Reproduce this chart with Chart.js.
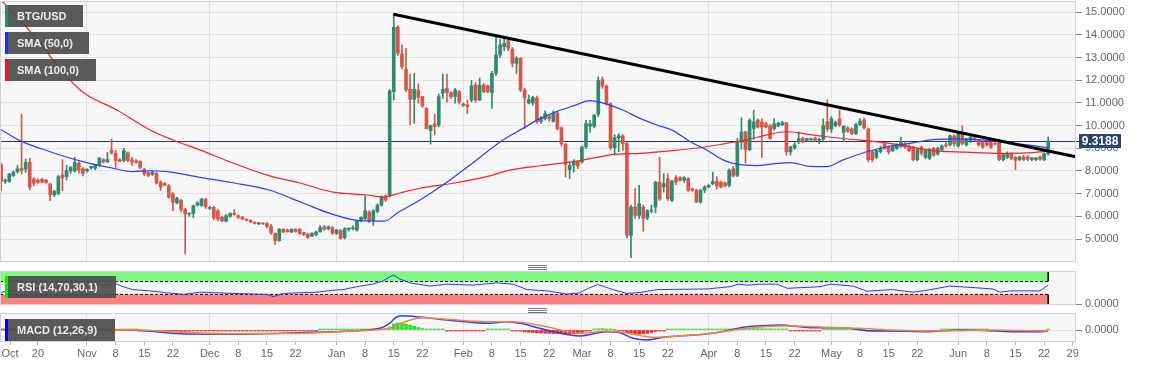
<!DOCTYPE html>
<html lang="en">
<head>
<meta charset="UTF-8" />
<title>BTG/USD</title>
<script src="https://cdn.jsdelivr.net/npm/chart.js"></script>
<style>
  html, body { margin: 0; padding: 0; background: #fff; }
  body { position: relative; width: 1153px; height: 367px; overflow: hidden; font-family: Arial, "Liberation Sans", sans-serif; }
  canvas { position: absolute; left: 0; top: 0; }
  .tag { position: absolute; left: 5px; height: 22px; line-height: 22px; padding-left: 12px; box-sizing: border-box;
         background: rgba(76,76,76,0.92); color: #ececec; font-size: 11px; font-weight: bold; white-space: nowrap; z-index: 5; }
  .tag i { position: absolute; left: 0; top: 0; width: 3px; height: 100%; }
  .grip { position: absolute; left: 528px; width: 19px; height: 5px; z-index: 5;
          background: linear-gradient(#777 0 1px, transparent 1px 2px, #777 2px 3px, transparent 3px 4px, #777 4px 5px); }
</style>
</head>
<body>
  <canvas id="price" width="1153" height="367"></canvas>
  <canvas id="rsi" width="1153" height="367"></canvas>
  <canvas id="macd" width="1153" height="367"></canvas>

  <div class="tag" style="top:5px;width:78px"><i style="background:#2e8a6e"></i>BTG/USD</div>
  <div class="tag" style="top:32px;width:84px"><i style="background:#1a2cff"></i>SMA (50,0)</div>
  <div class="tag" style="top:59px;width:91px"><i style="background:#ff1010"></i>SMA (100,0)</div>
  <div class="tag" style="top:276px;width:111px"><i style="background:#00f000"></i>RSI (14,70,30,1)</div>
  <div class="tag" style="top:319px;width:110px"><i style="background:#0000ff"></i>MACD (12,26,9)</div>
  <div class="grip" style="top:265px"></div>
  <div class="grip" style="top:308px"></div>

<script>
// days are counted from 1 Oct 2019 (day 0); first candle is day 10
const firstDay = 10;

const opens = [
  8.28,7.55,7.54,7.80,7.97,8.12,8.09,8.38,7.65,7.60,
  7.63,7.60,7.43,6.95,7.00,7.82,7.75,8.00,8.00,8.34,
  8.10,8.00,8.15,8.12,8.28,8.50,8.40,8.92,8.78,8.50,
  8.46,8.80,8.50,8.45,8.43,8.07,7.93,7.85,7.90,7.50,
  7.45,7.35,7.00,6.60,6.70,6.32,6.10,6.13,6.50,6.47,
  6.75,6.35,6.40,6.25,5.96,5.78,6.00,6.10,6.03,5.96,
  5.86,5.82,5.74,5.67,5.70,5.68,5.55,5.25,4.93,5.43,
  5.40,5.31,5.43,5.43,5.28,5.22,5.13,5.19,5.32,5.54,
  5.45,5.50,5.25,5.37,5.06,5.43,5.45,5.40,5.81,5.90,
  6.19,5.81,6.21,6.50,6.90,6.94,11.50,14.34,13.16,12.49,
  11.60,11.16,11.57,11.28,10.76,9.78,10.07,10.03,11.43,11.65,
  11.46,11.28,11.50,10.90,10.92,11.13,11.79,11.13,11.79,11.75,
  11.46,12.31,13.12,13.49,13.75,13.37,12.75,12.97,11.57,11.00,
  11.00,11.21,10.18,10.31,10.42,10.19,10.56,9.91,9.18,8.06,
  8.25,8.40,8.40,9.06,9.97,9.97,10.50,12.03,11.74,10.97,
  9.03,9.47,9.55,9.21,5.16,6.41,6.04,6.41,5.93,6.23,
  6.41,7.51,7.30,7.66,6.70,7.71,7.70,7.59,7.66,7.22,
  7.15,6.63,7.15,7.30,7.43,7.54,7.51,7.48,7.36,8.10,
  7.81,9.28,9.72,8.94,9.87,10.24,10.16,10.09,10.00,9.87,
  9.99,10.04,10.12,8.84,9.03,9.28,9.43,9.35,9.38,9.45,
  9.35,9.40,10.17,9.85,10.00,10.30,9.70,9.90,9.85,9.65,
  10.05,10.25,9.85,8.85,8.60,8.85,9.20,9.06,8.90,9.00,
  9.08,9.20,9.10,9.05,8.50,9.05,8.60,8.55,9.00,8.75,
  8.95,9.15,9.15,9.55,9.10,9.65,9.15,9.30,9.45,9.35,
  9.25,9.25,9.25,9.20,9.35,8.50,8.60,8.75,8.60,8.50,
  8.62,8.62,8.50,8.50,8.62,8.50,8.76
];
const highs = [
  8.35,7.65,7.90,8.00,8.25,10.51,8.53,8.56,7.70,7.65,
  7.68,7.63,7.45,7.15,7.80,8.50,8.24,8.20,8.60,8.42,
  8.15,8.10,8.22,8.30,8.60,8.55,8.82,9.41,8.90,8.55,
  9.00,8.85,8.60,8.50,8.45,8.12,8.00,8.00,7.95,7.57,
  7.50,7.40,7.05,6.85,6.75,6.35,6.15,6.50,6.65,6.80,
  6.80,6.45,6.45,6.30,6.00,6.08,6.15,6.30,6.06,6.00,
  5.90,5.86,5.76,5.73,5.73,5.72,5.65,5.27,5.46,5.46,
  5.44,5.45,5.46,5.47,5.30,5.25,5.28,5.35,5.60,5.60,
  5.58,5.55,5.42,5.42,5.50,5.50,5.58,5.85,5.98,6.90,
  6.25,6.30,6.55,6.90,6.95,11.60,14.93,14.40,13.56,13.41,
  12.28,12.31,11.84,11.30,10.80,10.03,10.51,11.40,12.28,12.28,
  11.50,11.65,11.55,11.00,11.13,11.99,11.90,12.10,11.85,11.80,
  12.40,13.96,13.80,13.85,13.85,13.45,13.05,13.00,11.65,11.35,
  11.30,11.30,10.40,10.65,10.50,10.65,10.60,9.95,9.22,8.40,
  8.50,8.45,9.10,10.24,10.24,10.50,12.15,12.15,11.80,11.00,
  9.60,9.65,9.60,9.25,6.50,7.22,7.37,6.50,6.30,6.50,
  7.55,8.60,7.88,7.88,7.60,7.80,7.75,7.75,7.70,7.25,
  7.20,7.20,7.35,7.40,7.95,7.74,7.55,7.52,8.10,8.20,
  9.43,10.35,9.75,10.30,10.68,10.30,10.30,10.15,10.05,10.31,
  10.15,10.20,10.15,9.10,9.25,9.72,9.50,9.45,9.45,9.50,
  9.45,10.30,11.15,10.40,10.20,10.69,10.00,9.95,9.90,10.10,
  10.31,10.35,9.90,8.90,8.95,9.10,9.25,9.10,9.15,9.20,
  9.50,9.25,9.15,9.10,9.00,9.10,8.95,9.00,9.05,9.05,
  9.15,9.30,9.60,9.60,9.70,10.00,9.45,9.55,9.50,9.40,
  9.30,9.30,9.30,9.30,9.40,8.75,8.85,8.80,8.65,8.65,
  8.70,8.68,8.60,8.60,8.66,8.80,9.50
];
const lows = [
  7.13,7.45,7.50,7.75,7.90,7.87,7.94,7.16,7.35,7.45,
  7.48,7.45,6.69,6.87,6.95,7.13,7.60,7.90,7.95,7.90,
  7.78,7.95,8.08,8.05,8.20,8.35,8.38,8.75,8.13,8.40,
  8.40,8.40,8.25,8.35,8.10,7.80,7.75,7.80,7.42,7.13,
  7.35,6.80,6.25,6.55,6.20,4.34,6.00,5.95,6.45,6.45,
  6.35,6.30,5.85,5.80,5.75,5.75,5.95,6.05,5.90,5.85,
  5.80,5.72,5.66,5.63,5.64,5.50,5.20,4.76,4.90,5.28,
  5.30,5.28,5.30,5.20,5.15,5.03,5.10,5.15,5.30,5.38,
  5.40,5.20,5.20,4.99,5.00,5.35,5.40,5.35,5.75,5.85,
  5.72,5.60,6.15,6.45,6.65,6.85,11.13,13.10,12.50,11.50,
  10.03,10.10,10.99,10.80,9.85,9.19,9.59,9.95,11.20,11.04,
  11.20,10.99,10.95,10.85,10.54,11.05,11.04,11.10,11.45,11.45,
  10.76,12.20,13.00,13.30,13.30,12.60,12.30,11.50,9.88,10.95,
  10.90,10.10,10.10,10.25,10.20,10.15,9.80,9.10,7.74,7.66,
  7.95,8.10,8.35,9.00,9.70,9.90,10.40,11.65,10.90,8.94,
  8.70,8.85,8.90,5.05,4.18,5.91,5.90,5.34,5.85,6.15,
  6.15,6.70,7.07,6.70,6.65,7.40,7.55,7.50,7.10,7.10,
  6.60,6.58,7.05,7.25,7.40,7.20,7.25,7.30,7.30,7.75,
  7.75,8.97,8.35,8.90,9.40,9.90,8.60,9.90,9.40,9.80,
  9.95,10.00,8.70,8.70,8.95,9.20,9.25,9.30,9.30,9.30,
  9.20,9.35,9.75,9.70,9.95,9.95,9.29,9.70,9.60,9.60,
  10.00,9.85,8.40,8.40,8.55,8.80,8.95,8.75,8.85,8.95,
  9.05,9.00,8.85,8.45,8.45,8.70,8.55,8.50,8.65,8.70,
  8.90,9.05,9.10,9.10,9.05,9.15,9.10,9.25,9.35,9.10,
  9.00,9.10,9.00,9.15,8.45,8.45,8.55,8.50,8.06,8.45,
  8.45,8.45,8.45,8.45,8.48,8.45,8.70
];
const closes = [
  7.54,7.60,7.87,7.94,8.09,8.02,8.38,7.28,7.46,7.50,
  7.51,7.49,6.96,7.10,7.75,7.69,8.01,8.16,8.38,8.04,
  7.90,8.08,8.20,8.28,8.57,8.40,8.51,8.80,8.46,8.42,
  8.90,8.46,8.40,8.38,8.16,7.87,7.80,7.95,7.47,7.30,
  7.38,6.84,6.62,6.80,6.30,6.10,6.12,6.47,6.60,6.76,
  6.43,6.40,5.93,5.88,5.80,6.03,6.13,6.08,5.96,5.88,
  5.82,5.75,5.69,5.71,5.66,5.55,5.27,4.93,5.43,5.31,
  5.32,5.43,5.33,5.25,5.19,5.07,5.25,5.31,5.50,5.43,
  5.54,5.25,5.40,5.03,5.46,5.46,5.50,5.81,5.96,6.25,
  5.81,6.25,6.50,6.87,6.72,11.53,14.34,13.19,12.60,11.57,
  11.16,11.60,11.25,10.87,9.88,10.00,9.96,11.28,11.60,11.46,
  11.28,11.57,11.04,10.95,10.84,11.75,11.13,11.79,11.50,11.50,
  12.31,13.12,13.56,13.63,13.41,12.75,12.97,11.57,11.21,11.15,
  11.25,10.18,10.32,10.53,10.30,10.53,9.87,9.20,8.29,8.25,
  8.40,8.22,9.06,10.09,10.07,10.46,12.00,11.74,10.97,9.03,
  9.47,9.55,9.21,5.16,6.41,6.04,6.56,5.91,6.24,6.27,
  7.51,6.76,7.44,6.78,7.56,7.51,7.59,7.71,7.15,7.15,
  6.63,7.15,7.30,7.37,7.54,7.33,7.29,7.35,8.03,7.78,
  9.28,9.72,8.94,10.24,10.16,9.94,9.94,9.94,9.43,10.09,
  10.10,10.13,8.84,9.06,9.15,9.43,9.28,9.43,9.42,9.35,
  9.40,10.00,9.85,10.30,10.15,10.04,9.98,9.75,9.65,10.05,
  10.20,9.90,8.50,8.50,8.90,9.00,9.00,8.85,9.10,9.15,
  9.30,9.05,8.90,8.50,8.95,8.78,8.90,8.95,8.70,9.00,
  9.10,9.10,9.55,9.20,9.65,9.20,9.40,9.50,9.40,9.15,
  9.05,9.15,9.05,9.18,8.50,8.72,8.78,8.55,8.47,8.62,
  8.50,8.52,8.58,8.58,8.52,8.76,9.3188
];

// moving averages at sample days
const sma50Days = [9.7,14.6,22,30,37.4,42.2,46.4,50.5,58.6,66.7,75.7,83.8,90.4,97.7,103.8,106.7,112.4,118,124.6,132.7,137.6,141.8,145.8,149.9,154,158,162,166.2,170.3,174.3,178.4,182.5,186.5,189.9,194.7,198.7,202.9,207.8,211.8,215.9,221.6,226.5,232.2,237.9,243.6,249.3,254.2,260.8,266];
const sma50Vals = [9.85,9.34,8.85,8.41,8.12,7.97,8.01,7.97,7.72,7.48,7.15,6.59,6.13,5.81,5.79,6.13,6.72,7.38,8.26,9.37,9.88,10.32,10.62,10.87,11.10,10.95,10.69,10.32,10.03,9.78,9.30,8.93,8.49,8.30,8.24,8.31,8.37,8.20,8.19,8.49,8.85,9.07,9.22,9.38,9.42,9.37,9.29,9.15,9.02];
const sma100Days = [9.7,14.6,19.5,24.4,28.8,31,38.3,46.4,52,58.6,66.7,75,83.1,91.1,99.5,103.4,107.5,112.4,120.5,128.7,134.4,141.8,149.9,155.6,160.5,166.2,174.3,182.5,187.4,192.3,197.2,202,206.9,211.8,217.6,223.2,229.8,237.9,246,254.2,260.8,266];
const sma100Vals = [15.59,14.66,13.65,12.50,11.66,11.35,10.69,9.81,9.37,8.93,8.35,7.82,7.47,7.07,6.94,6.85,7.03,7.24,7.46,7.75,8.04,8.23,8.41,8.60,8.74,8.78,8.90,9.07,9.22,9.37,9.59,9.73,9.63,9.51,9.40,9.31,9.15,8.90,8.83,8.78,8.80,8.87];

// descending trendline
const trendDays = [105.9, 272.8];
const trendVals = [14.91, 8.63];

// RSI (14)
const rsiDays = [9.7,12.2,17.8,26.1,34.2,38.3,39.8,42.2,46.4,50.5,54.5,58.6,66.7,75,76.5,79,83.1,87.2,91.1,93.6,97.7,100.9,103.4,105,106,107.5,110,114.9,119,125.4,131.2,135.2,138.6,143.5,148.4,151.5,153.2,155.9,159.6,163,166.2,170.4,176,182.6,188.2,190.2,192.4,195.5,199.7,202.2,210.2,212.7,218.3,221.7,228,232.9,236.4,241.9,244.4,252.5,254.2,256.6,264,266];
const rsiVals = [36,41,49,54,59,62,54,45,41,35,30,37,33,30,23,33,35,37,43,45,56,62,72,85,90,78,66,56,62,59,66,62,45,41,31,35,47,61,45,33,36,45,46,47,54,62,59,62,62,49,54,62,56,40,45,37,43,56,54,47,37,41,41,59];
const rsiUpper = 70, rsiLower = 30;

// MACD (12,26,9)
const macdDays = [9.7,20,42,50.5,55.5,66.7,78.9,91,99.4,102.6,105,106.5,108,112.4,119,129.5,133.6,136.9,143.4,151.5,158,161.3,164.5,167.9,171.9,184,192.3,197,200.4,207.8,215.9,221.7,228,236.4,244.4,252.5,258.4,264.7,266];
const macdVals = [0.05,0.05,0,-0.27,-0.4,-0.42,-0.33,-0.17,0,0.17,0.67,1.25,1.43,1.3,1.0,0.67,0.83,0.67,0,-0.6,-0.17,-0.27,-0.83,-1.0,-0.73,-0.33,0.33,0.45,0.5,0.23,0.23,-0.07,-0.1,-0.17,0,-0.07,-0.17,-0.17,-0.1];
const signalDays = [9.7,42,50.5,55.5,66.7,80,91,100,103,106,108,110,113,119,129.5,135,143.4,151.5,158,163,169.7,175.8,184,192.3,200.4,204,212,219.8,228,236.4,244.4,252.5,258,266];
const signalVals = [0.0,0.03,-0.15,-0.25,-0.38,-0.36,-0.2,-0.03,0.05,0.3,0.7,1.0,1.23,1.07,0.83,0.83,0.33,-0.33,-0.1,-0.3,-0.73,-0.6,-0.33,0.17,0.4,0.4,0.27,0.17,0,-0.1,-0.07,0,-0.05,-0.1];
const macdHist = [
  0.04,0.04,0.04,0.04,0.05,0.05,0.04,0.03,0.02,0.02,
  0.02,0.01,-0.02,-0.02,0.02,0.02,0.03,0.04,0.04,0.03,
  0.03,0.03,0.03,0.04,0.05,0.05,0.05,0.06,0.05,0.04,
  0.04,0.03,0.02,0.01,-0.03,-0.05,-0.06,-0.08,-0.1,-0.12,
  -0.13,-0.15,-0.16,-0.15,-0.15,-0.14,-0.12,-0.1,-0.08,-0.07,
  -0.06,-0.06,-0.07,-0.07,-0.06,-0.05,-0.04,-0.04,-0.04,-0.04,
  -0.04,-0.04,-0.05,-0.05,-0.05,-0.06,-0.06,-0.05,-0.03,-0.03,
  -0.02,-0.02,-0.02,-0.02,-0.02,-0.02,-0.01,-0.01,0.01,0.01,
  0.01,0.01,0.01,0.02,0.03,0.04,0.05,0.06,0.07,0.09,
  0.08,0.09,0.1,0.12,0.12,0.3,0.6,0.7,0.7,0.6,
  0.5,0.38,0.25,0.15,0.08,0.05,0.03,0.02,0.01,-0.01,
  -0.02,-0.03,-0.04,-0.05,-0.05,-0.04,-0.03,-0.02,-0.02,0.01,
  0.02,0.05,0.06,0.05,0.02,-0.03,-0.06,-0.12,-0.18,-0.22,
  -0.25,-0.28,-0.3,-0.32,-0.33,-0.35,-0.36,-0.38,-0.4,-0.4,
  -0.38,-0.33,-0.25,-0.12,-0.02,0.08,0.12,0.14,0.1,0.04,
  0.0,-0.04,-0.1,-0.28,-0.38,-0.4,-0.4,-0.37,-0.33,-0.25,
  -0.15,-0.08,-0.03,0.02,0.04,0.05,0.05,0.05,0.05,0.05,
  0.05,0.06,0.06,0.07,0.07,0.08,0.08,0.09,0.1,0.1,
  0.12,0.14,0.14,0.15,0.15,0.14,0.13,0.12,0.12,0.1,
  0.08,0.06,0.02,-0.02,-0.03,-0.03,-0.03,-0.03,-0.03,-0.02,
  -0.02,0.01,0.02,0.02,0.02,0.02,0.01,0.01,0.01,0.01,
  0.01,0.0,-0.05,-0.08,-0.1,-0.1,-0.1,-0.09,-0.09,-0.08,
  -0.07,-0.07,-0.07,-0.07,-0.06,-0.05,-0.04,-0.03,-0.02,-0.01,
  0.01,0.03,0.04,0.05,0.05,0.05,0.05,0.05,0.04,0.03,
  0.02,0.01,-0.02,-0.05,-0.08,-0.09,-0.09,-0.09,-0.09,-0.08,
  -0.07,-0.07,-0.06,-0.05,-0.05,-0.03,0.03
];

// axis
const xMin = 9.73, xMax = 272.8;
const tickDays = [12.2,19,31,38,45,52,61,68,75,82,92,99,106,113,123,130,137,144,152,159,166,173,183,190,197,204,213,220,227,234,244,251,258,265,272];
const tickLabels = ['Oct','20','Nov','8','15','22','Dec','8','15','22','Jan','8','15','22','Feb','8','15','22','Mar','8','15','22','Apr','8','15','22','May','8','15','22','Jun','8','15','22','29'];
const monthDays = [31,61,92,123,152,183,213,244];
const priceTicks = [5,6,7,8,9,10,11,12,13,14,15];

const days = closes.map((_, i) => firstDay + i);
const lastDay = days[days.length - 1];
const lastPrice = closes[closes.length - 1];
const pts = (xs, ys) => xs.map((x, i) => ({ x, y: ys[i] }));

Chart.defaults.font.family = 'Arial, "Liberation Sans", sans-serif';

const upCol = '#2f8a6f', downCol = '#d5574a';
const candleColors = closes.map((c, i) => c >= opens[i] ? upCol : downCol);

function xAxis(showLabels) {
  return {
    type: 'linear', min: xMin, max: xMax, offset: false,
    afterBuildTicks: s => { s.ticks = tickDays.map(v => ({ value: v })); },
    grid: {
      offset: false, drawTicks: showLabels, tickLength: 4, tickColor: '#b0b0b0',
      color: c => (c.tick && monthDays.includes(c.tick.value)) ? '#e2e2e2' : 'rgba(0,0,0,0)'
    },
    border: { display: false },
    ticks: { display: showLabels, autoSkip: false, maxRotation: 0, padding: 2, color: '#666',
             font: { size: 11 }, callback: (v, i) => tickLabels[i] },
    afterFit: s => { s.height = showLabels ? 26 : 0; s.paddingLeft = 0; s.paddingRight = 0; }
  };
}

function yAxis(min, max, ticks, gridColor) {
  return {
    position: 'right', min, max, beginAtZero: false,
    afterBuildTicks: s => { s.ticks = ticks.map(v => ({ value: v })); },
    grid: { color: gridColor, tickColor: '#8a8a8a', tickLength: 6 },
    border: { display: false },
    ticks: { color: '#666', padding: 3, font: { size: 11 }, callback: v => v.toFixed(4) },
    afterFit: s => { s.width = 77; s.paddingTop = 0; s.paddingBottom = 0; }
  };
}

const panel = {
  id: 'panel',
  beforeDraw(chart) {
    const { ctx, chartArea: a } = chart;
    ctx.save();
    ctx.fillStyle = '#f7f7f7';
    ctx.fillRect(a.left, a.top, a.right - a.left, a.bottom - a.top);
    ctx.restore();
  },
  afterDraw(chart) {
    const { ctx, chartArea: a } = chart;
    ctx.save();
    ctx.strokeStyle = '#cbd1e3';
    ctx.lineWidth = 1;
    ctx.strokeRect(a.left + 0.5, a.top - 0.5, a.right - a.left - 1, a.bottom - a.top + 1);
    ctx.restore();
  }
};

const priceTag = {
  id: 'priceTag',
  beforeDatasetsDraw(chart) {
    const { ctx, chartArea: a, scales } = chart;
    const y = Math.round(scales.y.getPixelForValue(lastPrice)) + 0.5;
    ctx.save();
    ctx.strokeStyle = '#243b66';
    ctx.lineWidth = 1;
    ctx.beginPath(); ctx.moveTo(a.left, y); ctx.lineTo(a.right + 3, y); ctx.stroke();
    ctx.restore();
  },
  afterDraw(chart) {
    const { ctx, chartArea: a, scales } = chart;
    const y = Math.round(scales.y.getPixelForValue(lastPrice));
    ctx.save();
    ctx.fillStyle = '#2a4572';
    ctx.fillRect(a.right + 3, y - 7, 42, 14);
    ctx.fillStyle = '#fff';
    ctx.font = 'bold 12px Arial, "Liberation Sans", sans-serif';
    ctx.textAlign = 'center';
    ctx.textBaseline = 'middle';
    ctx.fillText(lastPrice.toFixed(4), a.right + 24, y + 1);
    ctx.restore();
  }
};

const base = {
  responsive: false, animation: false, events: [],
  plugins: { legend: { display: false }, tooltip: { enabled: false } }
};

// price panel
new Chart(document.getElementById('price'), {
  type: 'bar',
  data: {
    datasets: [
      { type: 'line', data: pts(trendDays, trendVals), borderColor: '#000', borderWidth: 3, pointRadius: 0, order: 0 },
      { type: 'line', data: pts(sma50Days, sma50Vals), borderColor: '#2b3fff', borderWidth: 1.2, pointRadius: 0,
        cubicInterpolationMode: 'monotone', order: 1 },
      { type: 'line', data: pts(sma100Days, sma100Vals), borderColor: '#ff2020', borderWidth: 1.2, pointRadius: 0,
        cubicInterpolationMode: 'monotone', order: 2 },
      { data: days.map((d, i) => ({ x: d, y: [opens[i], closes[i]] })), backgroundColor: candleColors,
        barThickness: 3, minBarLength: 1, grouped: false, order: 3 },
      { data: days.map((d, i) => ({ x: d, y: [lows[i], highs[i]] })), backgroundColor: candleColors,
        barThickness: 1, grouped: false, order: 4 }
    ]
  },
  options: {
    ...base,
    layout: { padding: { top: 2, bottom: 106, left: 0, right: 0 }, autoPadding: false },
    scales: { x: xAxis(false), y: yAxis(4.03, 15.454, priceTicks, '#e3e3e3') }
  },
  plugins: [panel, priceTag]
});

// RSI panel
const band = (level, to, color) => ({
  type: 'line', data: [{ x: xMin, y: level }, { x: lastDay, y: level }], borderWidth: 0, pointRadius: 0,
  fill: { value: to }, backgroundColor: color, order: 3
});
const dashed = level => ({
  type: 'line', data: [{ x: xMin, y: level }, { x: lastDay, y: level }], borderColor: '#000',
  borderWidth: 1, borderDash: [3, 2], pointRadius: 0, order: 1
});
new Chart(document.getElementById('rsi'), {
  type: 'line',
  data: {
    datasets: [
      { data: pts(rsiDays, rsiVals), borderColor: '#1f3cff', borderWidth: 1, pointRadius: 0, order: 0 },
      dashed(rsiUpper),
      dashed(rsiLower),
      { data: [{ x: lastDay, y: 100 }, { x: lastDay, y: rsiUpper }, { x: lastDay, y: null },
               { x: lastDay, y: rsiLower }, { x: lastDay, y: 0 }],
        borderColor: '#000', borderWidth: 1.5, pointRadius: 0, order: 1 },
      band(100, rsiUpper, '#7ef87e'),
      band(rsiLower, 0, '#f98181')
    ]
  },
  options: {
    ...base,
    layout: { padding: { top: 272, bottom: 63, left: 0, right: 0 }, autoPadding: false },
    scales: { x: xAxis(false), y: yAxis(0, 100, [0], 'rgba(0,0,0,0)') }
  },
  plugins: [panel]
});

// MACD panel
new Chart(document.getElementById('macd'), {
  type: 'bar',
  data: {
    datasets: [
      { type: 'line', data: pts(signalDays, signalVals), borderColor: '#ff8433', borderWidth: 1.5, pointRadius: 0,
        cubicInterpolationMode: 'monotone', order: 0 },
      { type: 'line', data: pts(macdDays, macdVals), borderColor: '#2343ff', borderWidth: 1.5, pointRadius: 0,
        cubicInterpolationMode: 'monotone', order: 1 },
      { data: days.map((d, i) => ({ x: d, y: macdHist[i] })),
        backgroundColor: macdHist.map(h => h >= 0 ? '#2be02b' : '#ec2a2a'),
        barThickness: 3, minBarLength: 1, grouped: false, order: 2 }
    ]
  },
  options: {
    ...base,
    layout: { padding: { top: 314, bottom: 0, left: 0, right: 0 }, autoPadding: false },
    scales: { x: xAxis(true), y: yAxis(-1.1, 1.6, [0], '#e3e3e3') }
  },
  plugins: [panel]
});
</script>
</body>
</html>
